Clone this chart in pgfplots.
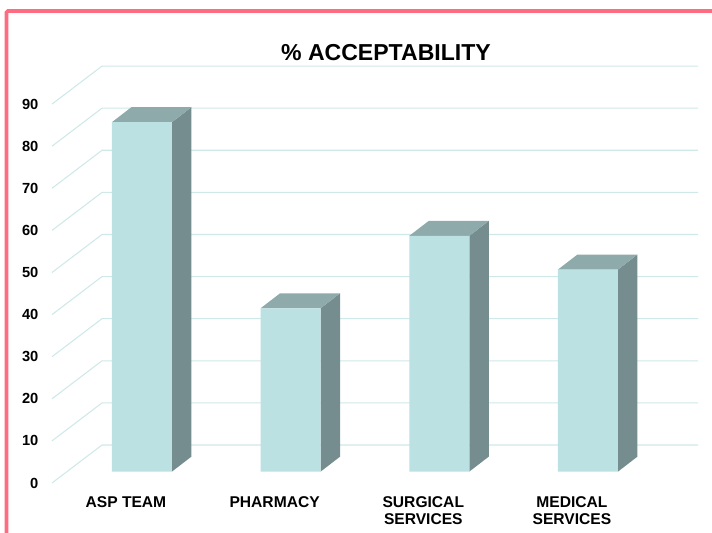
\documentclass[border=0pt]{standalone}
\usepackage{pgfplots}
\usepackage{fontspec}
\setmainfont{Liberation Sans}
\pgfplotsset{compat=1.18}
\definecolor{frontc}{HTML}{BCE1E2}
\definecolor{topc}{HTML}{8EAAAB}
\definecolor{sidec}{HTML}{758D8E}
\definecolor{gridc}{HTML}{CFE8E8}
\definecolor{framec}{HTML}{FF6B80}
\begin{document}
\begin{tikzpicture}[x=0.75pt,y=0.75pt]
\path[use as bounding box] (0,0) rectangle (712,532);
\begin{scope}
\clip (0,0) rectangle (712,532);
\draw[framec,line width=2.7pt,rounded corners=1pt] (6.5,-5) -- (6.5,521) -- (720,521);
\end{scope}
% grid walls and value axis
\begin{axis}[
  at={(39pt,36.75pt)},anchor=south west,
  scale only axis,width=484.5pt,height=313.125pt,
  xmin=0,xmax=646,ymin=0,ymax=99.17,clip=false,
  axis line style={draw=none},
  xtick=\empty,
  ytick={0,10,20,30,40,50,60,70,80,90},
  major tick length=0pt,
  y tick label style={font=\fontsize{11}{13}\selectfont\bfseries,xshift=-6.7pt,text=black},
  /pgf/number format/assume math mode=true,
  title={\% ACCEPTABILITY},
  title style={at={(0.517,1)},anchor=center,yshift=4pt,font=\fontsize{17.3}{20}\selectfont\bfseries},
]
\addplot[gridc,line width=0.8pt] coordinates {(0,0)(50,9.03)(646,9.03)};
\addplot[gridc,line width=0.8pt] coordinates {(0,10)(50,19.03)(646,19.03)};
\addplot[gridc,line width=0.8pt] coordinates {(0,20)(50,29.03)(646,29.03)};
\addplot[gridc,line width=0.8pt] coordinates {(0,30)(50,39.03)(646,39.03)};
\addplot[gridc,line width=0.8pt] coordinates {(0,40)(50,49.03)(646,49.03)};
\addplot[gridc,line width=0.8pt] coordinates {(0,50)(50,59.03)(646,59.03)};
\addplot[gridc,line width=0.8pt] coordinates {(0,60)(50,69.03)(646,69.03)};
\addplot[gridc,line width=0.8pt] coordinates {(0,70)(50,79.03)(646,79.03)};
\addplot[gridc,line width=0.8pt] coordinates {(0,80)(50,89.03)(646,89.03)};
\addplot[gridc,line width=0.8pt] coordinates {(0,90)(50,99.03)(646,99.03)};
\end{axis}
% bars
\begin{axis}[
  at={(39pt,45.3pt)},anchor=south west,
  scale only axis,width=484.5pt,height=304.575pt,
  xmin=-0.605,xmax=3.74,ymin=0,ymax=96.46,clip=false,
  axis line style={draw=none},
  ytick=\empty,
  xtick={0,1,2,3},
  xticklabels={ASP TEAM,PHARMACY,SURGICAL\\SERVICES,MEDICAL\\SERVICES},
  major tick length=0pt,
  x tick label style={font=\fontsize{11.7}{12.9}\selectfont\bfseries,align=center,anchor=north,
     xshift=-12pt,yshift=-14.9pt,text=black},
]
% side faces
\addplot[fill=sidec,draw=none] coordinates {(0.2018,0)(0.2018,83)(0.3328,86.56)(0.3328,3.56)} -- cycle;
\addplot[fill=sidec,draw=none] coordinates {(1.2018,0)(1.2018,38.8)(1.3328,42.36)(1.3328,3.56)} -- cycle;
\addplot[fill=sidec,draw=none] coordinates {(2.2018,0)(2.2018,56)(2.3328,59.56)(2.3328,3.56)} -- cycle;
\addplot[fill=sidec,draw=none] coordinates {(3.2018,0)(3.2018,48)(3.3328,51.56)(3.3328,3.56)} -- cycle;
% top faces
\addplot[fill=topc,draw=none] coordinates {(-0.2018,83)(0.2018,83)(0.3328,86.56)(-0.0708,86.56)} -- cycle;
\addplot[fill=topc,draw=none] coordinates {(0.7982,38.8)(1.2018,38.8)(1.3328,42.36)(0.9292,42.36)} -- cycle;
\addplot[fill=topc,draw=none] coordinates {(1.7982,56)(2.2018,56)(2.3328,59.56)(1.9292,59.56)} -- cycle;
\addplot[fill=topc,draw=none] coordinates {(2.7982,48)(3.2018,48)(3.3328,51.56)(2.9292,51.56)} -- cycle;
% front faces
\addplot[ybar,bar width=45pt,fill=frontc,draw=none] coordinates {(0,83)(1,38.8)(2,56)(3,48)};
\end{axis}
\end{tikzpicture}
\end{document}
